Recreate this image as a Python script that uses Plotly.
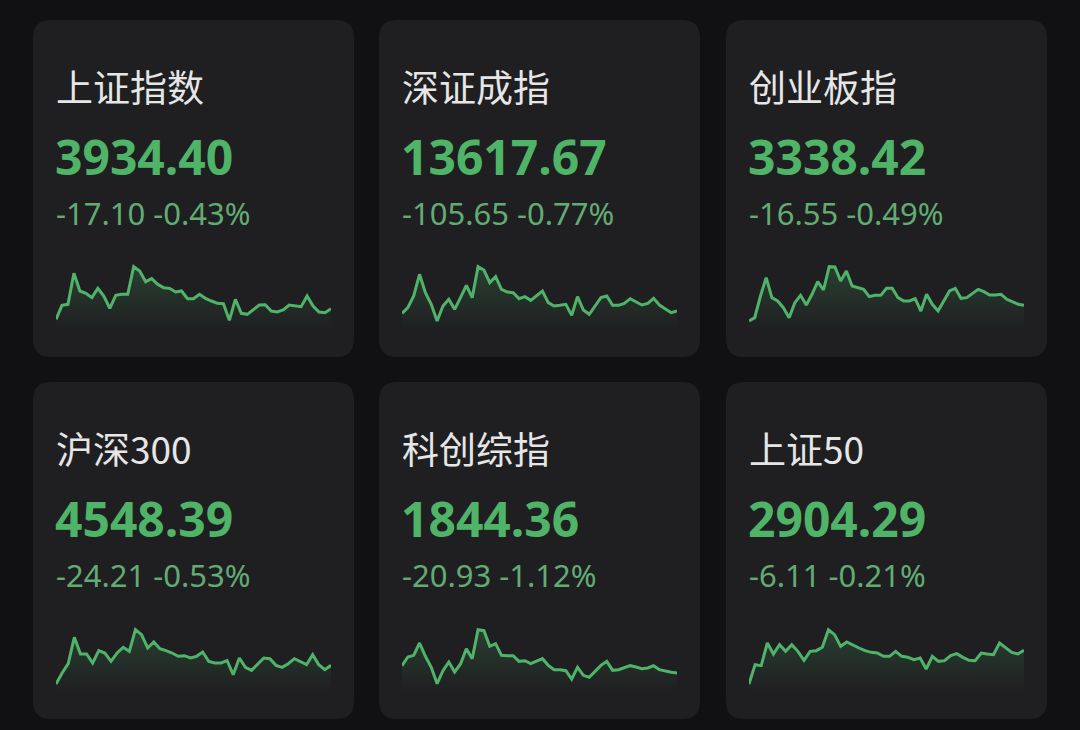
import plotly.graph_objects as go

# ---------------- data ----------------
names = ["上证指数", "深证成指", "创业板指", "沪深300", "科创综指", "上证50"]
prices = ["3934.40", "13617.67", "3338.42", "4548.39", "1844.36", "2904.29"]
changes = ["-17.10", "-105.65", "-16.55", "-24.21", "-20.93", "-6.11"]
pct_changes = ["-0.43%", "-0.77%", "-0.49%", "-0.53%", "-1.12%", "-0.21%"]

# intraday sparkline levels (relative units, higher = larger)
spark_sh = [50, 92, 95, 188, 135, 128, 115, 143, 120, 83, 122, 125, 125, 208, 195, 163,
            172, 155, 145, 143, 132, 135, 112, 112, 125, 113, 105, 98, 97, 47, 110, 68,
            65, 80, 93, 94, 75, 72, 78, 93, 90, 88, 120, 90, 72, 70, 82]
spark_sz = [68, 85, 120, 185, 130, 95, 45, 90, 110, 80, 115, 152, 115, 208, 198, 160,
            178, 140, 132, 130, 112, 118, 107, 120, 135, 100, 90, 92, 95, 62, 118, 78,
            65, 90, 115, 120, 92, 92, 98, 112, 103, 93, 98, 113, 93, 82, 70, 75]
spark_cy = [45, 55, 120, 175, 115, 105, 85, 55, 100, 122, 93, 125, 163, 138, 208, 207,
            165, 195, 150, 145, 140, 118, 122, 122, 143, 143, 115, 105, 105, 112, 75, 125,
            95, 75, 105, 135, 143, 113, 115, 128, 140, 133, 123, 123, 125, 110, 102, 95, 92]
spark_hs = [42, 75, 103, 182, 132, 132, 105, 142, 135, 110, 135, 152, 140, 205, 190, 150,
            168, 148, 142, 135, 125, 127, 120, 125, 138, 110, 105, 105, 112, 70, 120, 92,
            83, 103, 120, 118, 98, 92, 103, 118, 110, 100, 130, 100, 85, 98]
spark_kc = [97, 123, 128, 165, 125, 92, 43, 82, 108, 78, 102, 148, 118, 205, 202, 155,
            163, 128, 127, 127, 110, 112, 103, 110, 118, 98, 85, 85, 82, 57, 92, 68,
            62, 80, 98, 110, 83, 85, 90, 97, 93, 88, 90, 97, 85, 80, 77, 75]
spark_sz50 = [42, 100, 97, 165, 132, 160, 140, 160, 140, 113, 140, 142, 152, 205, 190, 155,
              168, 158, 150, 142, 137, 135, 125, 125, 140, 125, 122, 115, 120, 87, 125, 110,
              112, 127, 133, 122, 113, 112, 135, 132, 130, 165, 152, 137, 132, 143]
sparks = [spark_sh, spark_sz, spark_cy, spark_hs, spark_kc, spark_sz50]

# ---------------- style ----------------
W, H = 1080, 730
PAGE_BG = "#111113"
CARD_BG = "#1f1f21"
TITLE_C = "#e6e6e6"
VALUE_C = "#4fb467"
CHANGE_C = "#62ac74"
LINE_C = "#4fb46a"

col_x = [33, 379, 726]
row_y = [20, 382]
CW, CH = 321, 337
R = 18


def px(x):
    return x / W


def py(y):
    return 1 - y / H


def rounded_rect(x0, y0, x1, y1, r):
    rx, ry = r / W, r / H
    X0, X1 = px(x0), px(x1)
    Y0, Y1 = py(y0), py(y1)  # Y0 top (larger), Y1 bottom
    return (f"M {X0 + rx},{Y0} L {X1 - rx},{Y0} Q {X1},{Y0} {X1},{Y0 - ry} "
            f"L {X1},{Y1 + ry} Q {X1},{Y1} {X1 - rx},{Y1} "
            f"L {X0 + rx},{Y1} Q {X0},{Y1} {X0},{Y1 + ry} "
            f"L {X0},{Y0 - ry} Q {X0},{Y0} {X0 + rx},{Y0} Z")


fig = go.Figure()
shapes = []
annotations = []
layout_axes = {}

for i, name in enumerate(names):
    r, c = divmod(i, 3)
    x0 = col_x[c]
    y0 = row_y[r]
    shapes.append(dict(type="path", xref="paper", yref="paper",
                       path=rounded_rect(x0, y0, x0 + CW, y0 + CH, R),
                       fillcolor=CARD_BG, line=dict(width=0), layer="below"))

    tx = px(x0 + 21)
    annotations.append(dict(text=name, x=tx, y=py(y0 + 66), xref="paper", yref="paper",
                            xanchor="left", yanchor="middle", showarrow=False,
                            font=dict(family="Noto Sans CJK SC", size=37, color=TITLE_C)))
    annotations.append(dict(text=f"<b>{prices[i]}</b>", x=tx - 1 / W, y=py(y0 + 136), xref="paper", yref="paper",
                            xanchor="left", yanchor="middle", showarrow=False,
                            font=dict(family="Noto Sans", size=48, color=VALUE_C)))
    annotations.append(dict(text=f"{changes[i]} {pct_changes[i]}", x=tx, y=py(y0 + 193),
                            xref="paper", yref="paper",
                            xanchor="left", yanchor="middle", showarrow=False,
                            font=dict(family="Noto Sans", size=31, color=CHANGE_C)))

    # sparkline subplot
    k = "" if i == 0 else str(i + 1)
    sy0 = y0 + 236
    sy1 = y0 + 316
    layout_axes[f"xaxis{k}"] = dict(domain=[px(x0 + 23), px(x0 + 298)], range=[0, len(sparks[i]) - 1],
                                    visible=False, fixedrange=True, anchor=f"y{k}")
    layout_axes[f"yaxis{k}"] = dict(domain=[py(sy1), py(sy0)], range=[0, 240],
                                    visible=False, fixedrange=True, anchor=f"x{k}")
    fig.add_trace(go.Scatter(
        x=list(range(len(sparks[i]))), y=sparks[i], mode="lines",
        line=dict(color=LINE_C, width=3), fill="tozeroy",
        fillgradient=dict(type="vertical", start=20, stop=max(sparks[i]),
                          colorscale=[[0, "rgba(79,180,106,0)"], [1, "rgba(79,180,106,0.22)"]]),
        xaxis=f"x{k}", yaxis=f"y{k}", hoverinfo="skip", showlegend=False))

fig.update_layout(width=W, height=H, margin=dict(l=0, r=0, t=0, b=0),
                  paper_bgcolor=PAGE_BG, plot_bgcolor="rgba(0,0,0,0)",
                  shapes=shapes, annotations=annotations, showlegend=False, **layout_axes)

fig.write_html("out.html", config={"displayModeBar": False},
               post_script="document.body.style.margin='0';document.body.style.background='#111113';"
                           "document.body.style.overflow='hidden';")
